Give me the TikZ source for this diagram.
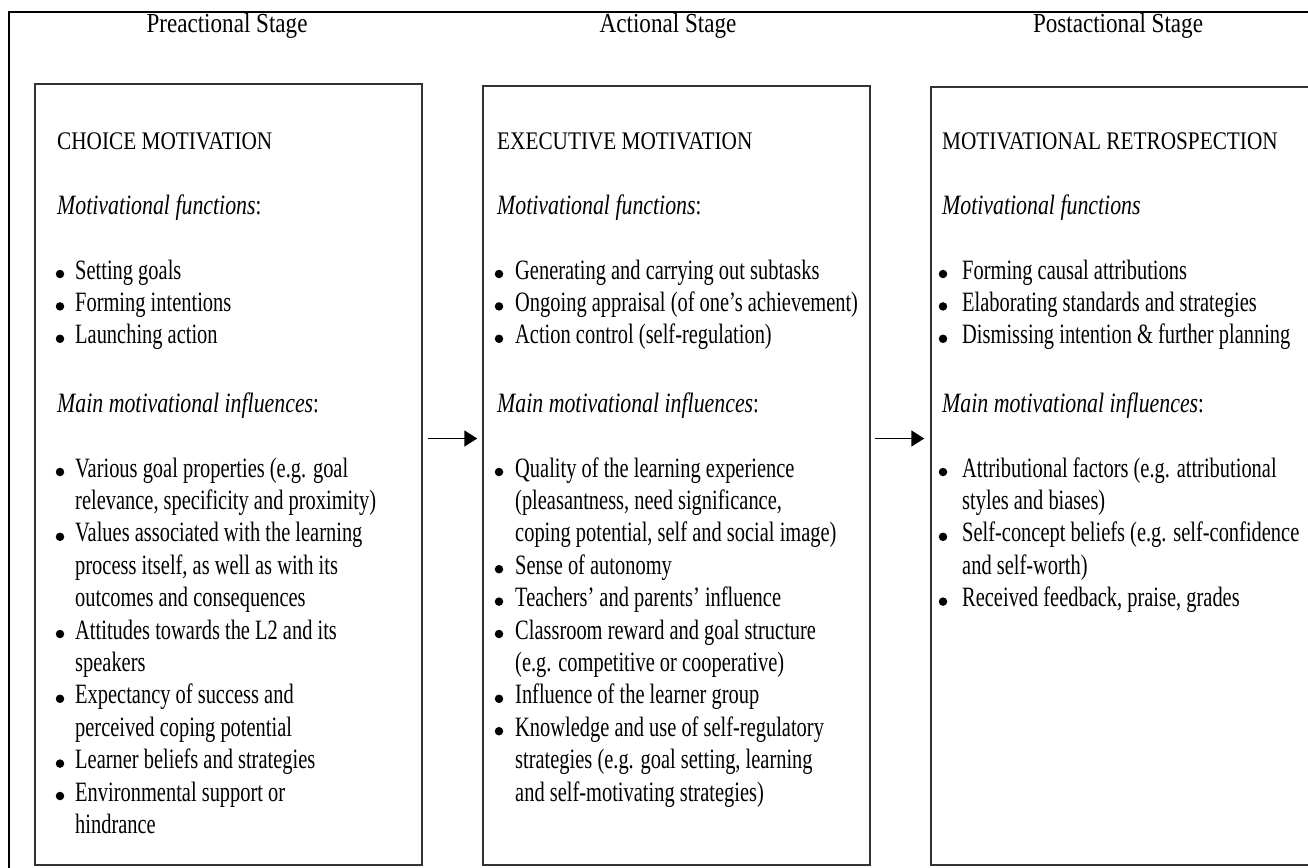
\documentclass[tikz,border=0pt]{standalone}
\usepackage{fontspec}
\setmainfont{Liberation Serif}[FakeStretch=0.73,ItalicFeatures={FakeStretch=0.78}]
\newfontfamily\capsfamily{Liberation Serif}[FakeStretch=0.84]
\usetikzlibrary{arrows.meta}
\newcommand\bodyfont{\fontsize{28}{32.4}\selectfont}
\newcommand\headfont{\capsfamily\fontsize{25.3}{32.4}\selectfont}
\newcommand\titlefont{\capsfamily\fontsize{27.5}{32}\selectfont}
% column geometry: heading x, bullet x, text x
\newcommand\colH{57}
\newcommand\colB{60}
\newcommand\colT{75}
% heading line, plain line, bulleted line, continuation line
\newcommand\mkcaps[3]{\node[txt,font=\headfont] (#1) at (\colH,#2) {#3};}
\newcommand\mkhead[3]{\node[txt] (#1) at (\colH,#2) {#3};}
\newcommand\mkbul[3]{\node[dot] (#1d) at (\colB,#2-5) {};\node[txt] (#1) at (\colT,#2) {#3};}
\newcommand\mkcont[3]{\node[txt] (#1) at (\colT,#2) {#3};}
\begin{document}
\begin{tikzpicture}[x=1pt,y=-1pt,
  txt/.style={anchor=base west,inner sep=0pt,font=\bodyfont},
  stagetitle/.style={anchor=base,inner sep=0pt,font=\titlefont},
  dot/.style={circle,fill=black,inner sep=0pt,minimum size=8.5pt},
  box/.style={draw=black!80,line width=1.5pt,inner sep=0pt},
  arr/.style={line width=1.7pt,-{Triangle[length=13pt,width=16pt]}},
  frame/.style={line width=2.5pt,black}]
\useasboundingbox (0,0) rectangle (1308,867);
\clip (0,0) rectangle (1308,867);

% outer frame (left and top edges)
\draw[frame] (9,900) -- (9,12) -- (1330,12);

% stage titles
\node[stagetitle] (t1) at (227,33) {Preactional Stage};
\node[stagetitle] (t2) at (668,33) {Actional Stage};
\node[stagetitle] (t3) at (1118,33) {Postactional Stage};

% stage boxes
\node[box,minimum width=387pt,minimum height=781pt] (b1) at (228.5,474.5) {};
\node[box,minimum width=387pt,minimum height=779pt] (b2) at (676.5,475.5) {};
\node[box,minimum width=399pt,minimum height=778pt] (b3) at (1130.5,476) {};

% arrows between stages
\coordinate (lvl) at (0,438.5);
\path (b1.east |- lvl) coordinate (a1s);
\path (b2.west |- lvl) coordinate (a1e);
\path (b2.east |- lvl) coordinate (a2s);
\path (b3.west |- lvl) coordinate (a2e);
\draw[arr] ([xshift=5pt]a1s) -- ([xshift=-5pt]a1e);
\draw[arr] ([xshift=4pt]a2s) -- ([xshift=-6pt]a2e);

% ---- preactional column
\renewcommand\colH{57}\renewcommand\colB{60}\renewcommand\colT{75}
\mkcaps{p0}{149}{CHOICE MOTIVATION}
\mkhead{p1}{214}{\textit{Motivational functions}:}
\mkbul{p2}{279}{Setting goals}
\mkbul{p3}{311.4}{Forming intentions}
\mkbul{p4}{343.8}{Launching action}
\mkhead{p5}{412}{\textit{Main motivational influences}:}
\mkbul{p6}{477}{Various goal properties (e.g. goal}
\mkcont{p7}{477+1*32.4}{relevance, specificity and proximity)}
\mkbul{p8}{477+2*32.4}{Values associated with the learning}
\mkcont{p9}{477+3*32.4}{process itself, as well as with its}
\mkcont{p10}{477+4*32.4}{outcomes and consequences}
\mkbul{p11}{477+5*32.4}{Attitudes towards the L2 and its}
\mkcont{p12}{477+6*32.4}{speakers}
\mkbul{p13}{477+7*32.4}{Expectancy of success and}
\mkcont{p14}{477+8*32.4}{perceived coping potential}
\mkbul{p15}{477+9*32.4}{Learner beliefs and strategies}
\mkbul{p16}{477+10*32.4}{Environmental support or}
\mkcont{p17}{477+11*32.4}{hindrance}

% ---- actional column
\renewcommand\colH{497}\renewcommand\colB{499}\renewcommand\colT{515}
\mkcaps{a0}{149}{EXECUTIVE MOTIVATION}
\mkhead{a1}{214}{\textit{Motivational functions}:}
\mkbul{a2}{279}{Generating and carrying out subtasks}
\mkbul{a3}{311.4}{Ongoing appraisal (of one’s achievement)}
\mkbul{a4}{343.8}{Action control (self-regulation)}
\mkhead{a5}{412}{\textit{Main motivational influences}:}
\mkbul{a6}{477}{Quality of the learning experience}
\mkcont{a7}{477+1*32.4}{(pleasantness, need significance,}
\mkcont{a8}{477+2*32.4}{coping potential, self and social image)}
\mkbul{a9}{477+3*32.4}{Sense of autonomy}
\mkbul{a10}{477+4*32.4}{Teachers’ and parents’ influence}
\mkbul{a11}{477+5*32.4}{Classroom reward and goal structure}
\mkcont{a12}{477+6*32.4}{(e.g. competitive or cooperative)}
\mkbul{a13}{477+7*32.4}{Influence of the learner group}
\mkbul{a14}{477+8*32.4}{Knowledge and use of self-regulatory}
\mkcont{a15}{477+9*32.4}{strategies (e.g. goal setting, learning}
\mkcont{a16}{477+10*32.4}{and self-motivating strategies)}

% ---- postactional column
\renewcommand\colH{942}\renewcommand\colB{943}\renewcommand\colT{962}
\mkcaps{r0}{149}{MOTIVATIONAL RETROSPECTION}
\mkhead{r1}{214}{\textit{Motivational functions}}
\mkbul{r2}{279}{Forming causal attributions}
\mkbul{r3}{311.4}{Elaborating standards and strategies}
\mkbul{r4}{343.8}{Dismissing intention \& further planning}
\mkhead{r5}{412}{\textit{Main motivational influences}:}
\mkbul{r6}{477}{Attributional factors (e.g. attributional}
\mkcont{r7}{477+1*32.4}{styles and biases)}
\mkbul{r8}{477+2*32.4}{Self-concept beliefs (e.g. self-confidence}
\mkcont{r9}{477+3*32.4}{and self-worth)}
\mkbul{r10}{477+4*32.4}{Received feedback, praise, grades}
\end{tikzpicture}
\end{document}
